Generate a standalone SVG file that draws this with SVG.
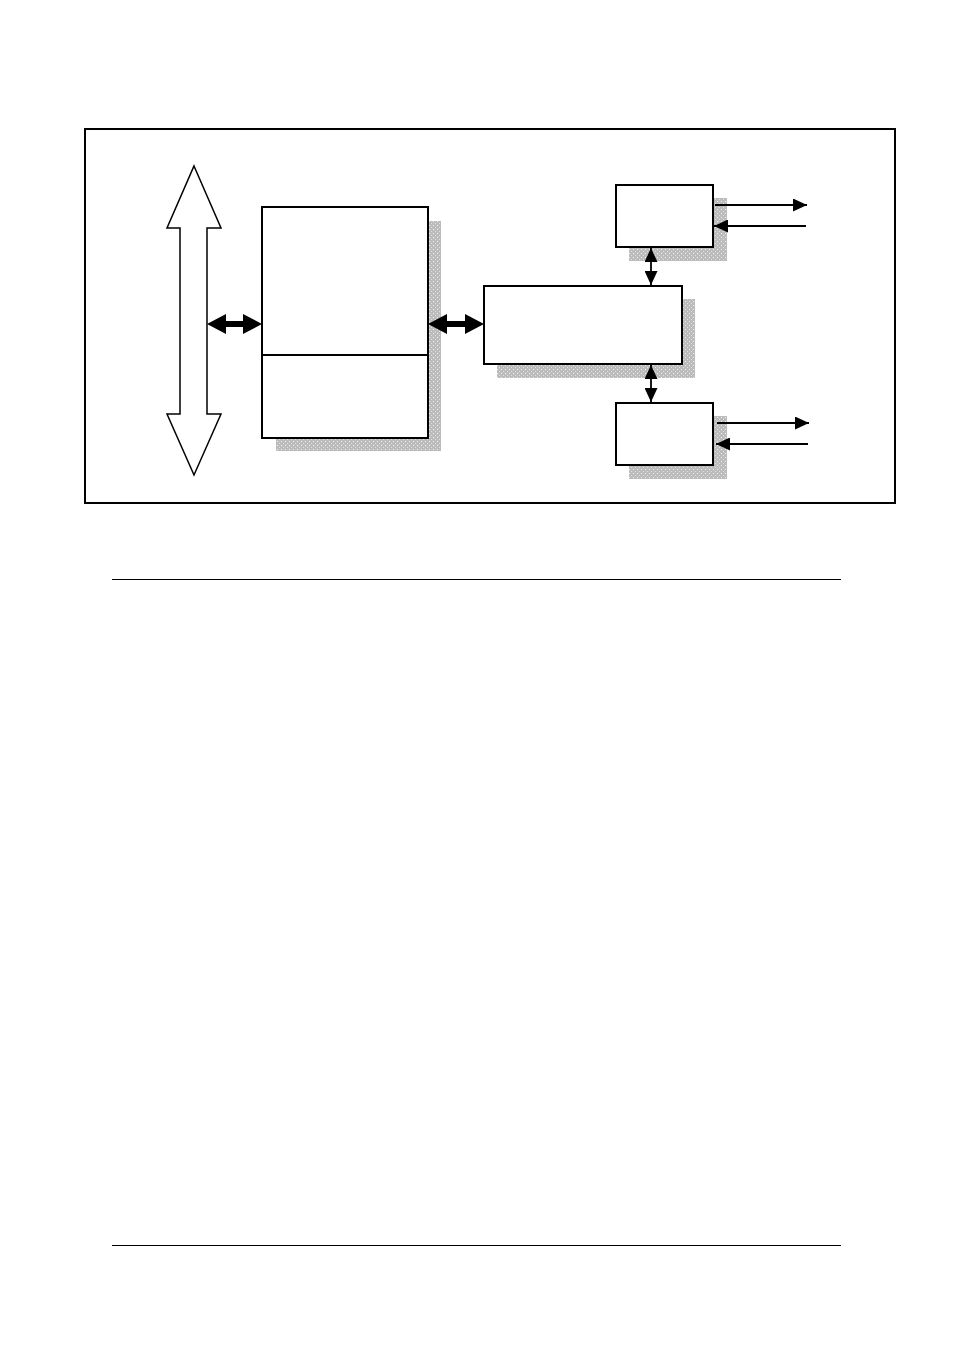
<svg xmlns="http://www.w3.org/2000/svg" width="954" height="1351" viewBox="0 0 954 1351">
<style>
.box{fill:#fff;stroke:#000;stroke-width:2}
.shadow{fill:url(#dots);stroke:none}
.thin{stroke:#000;stroke-width:1.8;fill:none}
.rule{stroke:#000;stroke-width:1}
</style>
<defs>
<pattern id="dots" width="4" height="4" patternUnits="userSpaceOnUse">
<rect width="4" height="4" fill="#bcbcbc"/>
<rect x="1" y="1" width="1" height="1" fill="#f2f2f2"/>
<rect x="3" y="3" width="1" height="1" fill="#e0e0e0"/>
</pattern>
<marker id="ah" viewBox="0 0 14 13" refX="14" refY="6.5" markerWidth="14" markerHeight="13" markerUnits="userSpaceOnUse" orient="auto-start-reverse">
<path d="M0,0 L14,6.5 L0,13 z" fill="#000"/>
</marker>
</defs>
<rect width="954" height="1351" fill="#fff"/>
<g id="frame"><rect x="85" y="129" width="810" height="374" fill="none" stroke="#000" stroke-width="2"/></g>
<g id="bus"><polygon points="194,166 221,228 207,228 207,414 221,414 194,475 167,414 180,414 180,228 167,228" fill="#fff" stroke="#000" stroke-width="1.5"/></g>
<g id="left-block">
<rect class="shadow" x="276" y="221" width="165" height="230"/>
<rect class="box" x="262" y="207" width="166" height="231"/>
<line x1="261" y1="355" x2="428" y2="355" stroke="#000" stroke-width="2"/>
</g>
<g id="middle-block">
<rect class="shadow" x="497" y="299" width="198" height="79"/>
<rect class="box" x="484" y="286" width="198" height="78"/>
</g>
<g id="top-block">
<rect class="shadow" x="629" y="198" width="98" height="63"/>
<rect class="box" x="616" y="185" width="97" height="62"/>
</g>
<g id="bottom-block">
<rect class="shadow" x="629" y="416" width="98" height="63"/>
<rect class="box" x="616" y="403" width="97" height="62"/>
</g>
<g id="connectors">
<polygon points="207,324 226,314 226,321 243,321 243,314 262,324 243,334 243,327 226,327 226,334" fill="#000"/>
<polygon points="428,324 447,314 447,321 465,321 465,314 484,324 465,334 465,327 447,327 447,334" fill="#000"/>
<line class="thin" x1="651" y1="248" x2="651" y2="285" marker-start="url(#ah)" marker-end="url(#ah)"/>
<line class="thin" x1="651" y1="365" x2="651" y2="402" marker-start="url(#ah)" marker-end="url(#ah)"/>
<line class="thin" x1="715" y1="205" x2="807" y2="205" marker-end="url(#ah)"/>
<line class="thin" x1="806" y1="226" x2="714" y2="226" marker-end="url(#ah)"/>
<line class="thin" x1="717" y1="423" x2="809" y2="423" marker-end="url(#ah)"/>
<line class="thin" x1="808" y1="444" x2="716" y2="444" marker-end="url(#ah)"/>
</g>
<g id="rules">
<line class="rule" x1="112" y1="579.5" x2="841" y2="579.5"/>
<line class="rule" x1="112" y1="1245.5" x2="841" y2="1245.5"/>
</g>
</svg>
